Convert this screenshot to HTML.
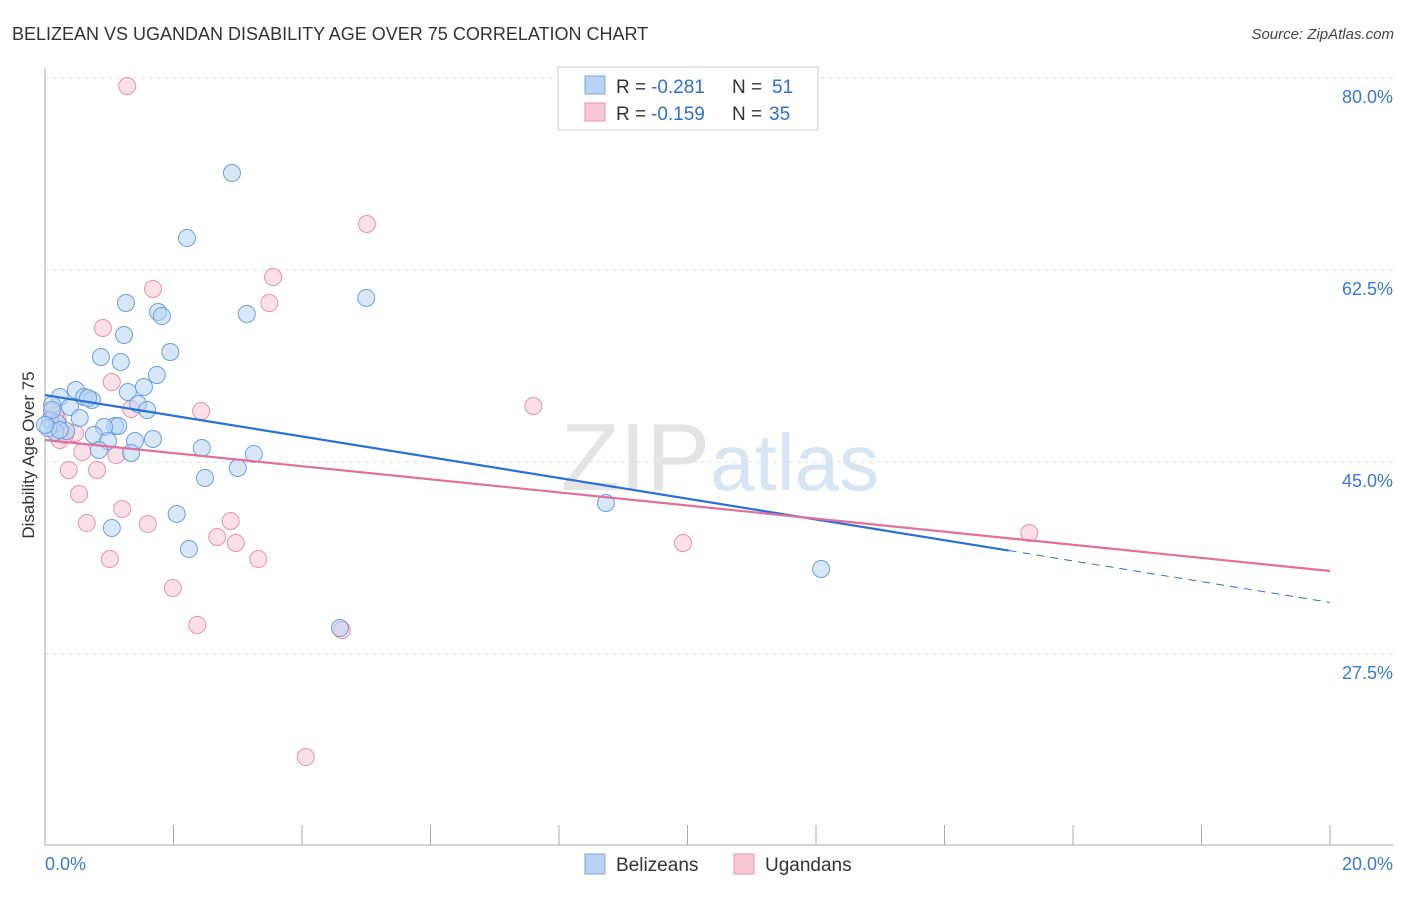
<!DOCTYPE html>
<html><head><meta charset="utf-8"><style>
body{margin:0;background:#fff;font-family:"Liberation Sans",sans-serif}
svg text{font-family:"Liberation Sans",sans-serif}
</style></head><body>
<svg id="c" width="1406" height="892" xmlns="http://www.w3.org/2000/svg">
<text x="12" y="40" font-size="18" fill="#333">BELIZEAN VS UGANDAN DISABILITY AGE OVER 75 CORRELATION CHART</text>
<text x="1394" y="39" font-size="15" fill="#444" text-anchor="end" font-style="italic">Source: ZipAtlas.com</text>
<text x="720" y="490" font-size="96" fill="#e4e4e4" text-anchor="middle" font-family="Liberation Serif">ZIP<tspan fill="#d6e4f3" font-family="Liberation Sans" font-size="80">atlas</tspan></text>
<g id="grid"></g><g id="axes"></g><g id="pts"></g><g id="lines"></g>
<text transform="translate(34,455) rotate(-90)" font-size="17" fill="#333" text-anchor="middle">Disability Age Over 75</text>
<g>
<rect x="558" y="67" width="260" height="63" fill="#fff" stroke="#ccc"/>
<rect x="585" y="76" width="20" height="18" fill="#b8d3f3" stroke="#7aa7dd"/>
<rect x="585" y="103" width="20" height="18" fill="#f9c6d6" stroke="#e890ae"/>
<text x="616" y="93" font-size="19" fill="#333">R =</text>
<text x="651" y="93" font-size="19" fill="#2f6fd0">-0.281</text>
<text x="732" y="93" font-size="19" fill="#333">N =</text>
<text x="772" y="93" font-size="19" fill="#2f6fd0">51</text>
<text x="616" y="120" font-size="19" fill="#333">R =</text>
<text x="651" y="120" font-size="19" fill="#2f6fd0">-0.159</text>
<text x="732" y="120" font-size="19" fill="#333">N =</text>
<text x="769" y="120" font-size="19" fill="#2f6fd0">35</text>
</g>
<g>
<rect x="585" y="854" width="20" height="20" fill="#b8d3f3" stroke="#7aa7dd"/>
<text x="616" y="871" font-size="19" fill="#333">Belizeans</text>
<rect x="734" y="854" width="20" height="20" fill="#f9c6d6" stroke="#e890ae"/>
<text x="765" y="871" font-size="19" fill="#333">Ugandans</text>
</g>
</svg>
<script>
const yTicks=[80,62.5,45,27.5];
const yTickLabels=["80.0%","62.5%","45.0%","27.5%"];
const xTickLabels=["0.0%","20.0%"];
const bluePx=[[232,173],[187,238],[366,298],[126,303],[158,312],[162,316],[247,314],[124,335],[101,357],[170,352],[121,362],[157,375],[144,387],[76,390],[128,392],[60,397],[84,397],[92,400],[52,405],[138,404],[70,407],[147,410],[80,418],[50,420],[57,423],[115,426],[118,426],[104,427],[66,431],[94,435],[55,432],[153,439],[108,441],[135,441],[202,448],[99,450],[131,453],[254,454],[238,468],[205,478],[177,514],[112,528],[189,549],[606,503],[821,569],[340,628],[48,428],[60,430],[52,410],[45,425],[88,398]];
const pinkPx=[[127,86],[367,224],[273,277],[153,289],[269,303],[103,328],[112,382],[131,409],[201,411],[533,406],[52,412],[58,420],[75,433],[60,440],[116,455],[82,452],[69,470],[97,470],[79,494],[122,509],[87,523],[148,524],[231,521],[217,537],[236,543],[683,543],[1029,533],[110,559],[258,559],[173,588],[197,625],[342,630],[306,757],[55,415],[65,435]];
const blueX=bluePx.map(p=>+((p[0]-45)/64.25).toFixed(2));
const blueY=bluePx.map(p=>+(80-(p[1]-78)/10.97).toFixed(2));
const pinkX=pinkPx.map(p=>+((p[0]-45)/64.25).toFixed(2));
const pinkY=pinkPx.map(p=>+(80-(p[1]-78)/10.97).toFixed(2));
const blueLine=[51.1,32.2], blueSolidEnd=15.0;
const pinkLine=[47.0,35.06];
const X=v=>45+v*64.25, Y=v=>78+(80-v)*10.97;
const NS="http://www.w3.org/2000/svg";
function mk(t,a,parent){const e=document.createElementNS(NS,t);for(const k in a)e.setAttribute(k,a[k]);document.getElementById(parent).appendChild(e);return e;}
yTicks.forEach((v,i)=>{
 const l=mk('line',{x1:45,x2:1393,y1:Y(v),y2:Y(v),stroke:'#ddd','stroke-dasharray':'4,4'},'grid');
 
 
 const t=mk('text',{x:1393,y:Y(v)+25,'font-size':18,fill:'#3a78d4','text-anchor':'end'},'grid');
 t.textContent=yTickLabels[i];
 
 
});
let a=mk('line',{x1:45,x2:45,y1:68,y2:845,stroke:'#aaa'},'axes');


a=mk('line',{x1:45,x2:1393,y1:845,y2:845,stroke:'#aaa'},'axes');


for(let i=0;i<=20;i+=2){const t=mk('line',{x1:X(i),x2:X(i),y1:825,y2:845,stroke:'#aaa'},'axes');
 
 }
[[0,'start',45],[20,'end',1393]].forEach((d,i)=>{const t=mk('text',{x:d[2],y:870,'font-size':18,fill:'#3a78d4','text-anchor':d[1]},'axes');t.textContent=xTickLabels[i];
 
 });
function pts(xs,ys,fill,stroke,name){xs.forEach((x,i)=>{const c=mk('circle',{cx:X(x),cy:Y(ys[i]),r:8.5,fill:fill,'fill-opacity':0.55,stroke:stroke,'stroke-width':1},'pts');
 
 });}
pts(pinkX,pinkY,'#f9c6d6','#e890ae','ugandan-point');
pts(blueX,blueY,'#b8d3f3','#6a9edb','belizean-point');
const by=x=>blueLine[0]+(blueLine[1]-blueLine[0])*x/20;
let l=mk('line',{x1:X(0),y1:Y(by(0)),x2:X(blueSolidEnd),y2:Y(by(blueSolidEnd)),stroke:'#2a6fd6','stroke-width':2.2},'lines');


l=mk('line',{x1:X(blueSolidEnd),y1:Y(by(blueSolidEnd)),x2:X(20),y2:Y(by(20)),stroke:'#2a6fd6','stroke-width':1,'stroke-dasharray':'8,6'},'lines');


l=mk('line',{x1:X(0),y1:Y(pinkLine[0]),x2:X(20),y2:Y(pinkLine[1]),stroke:'#e0709a','stroke-width':2.2},'lines');


</script>
</body></html>
